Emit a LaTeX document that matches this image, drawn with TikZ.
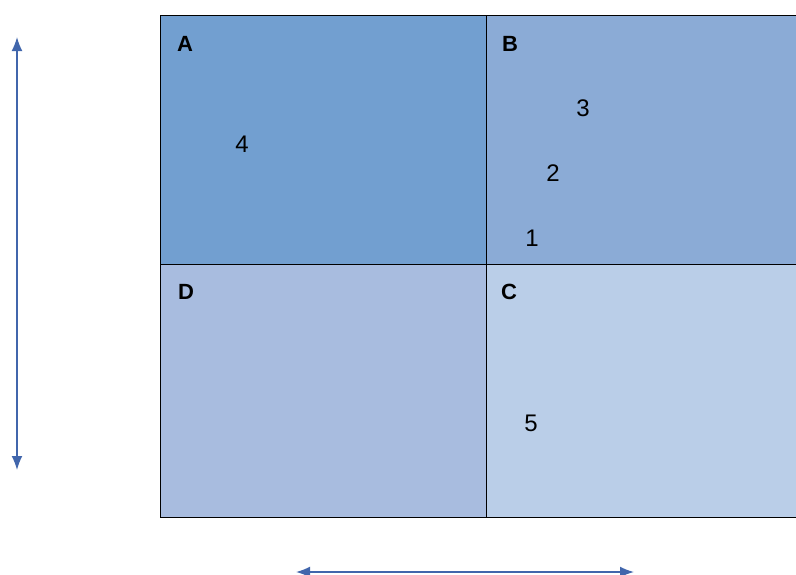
\documentclass[tikz,border=0pt]{standalone}
\usepackage{fontspec}
\setmainfont{Liberation Sans}
\usepackage{xcolor}
\usepackage{tikz}
\usetikzlibrary{positioning,arrows.meta}
\definecolor{qblueA}{HTML}{729FD0}
\definecolor{qblueB}{HTML}{8BABD6}
\definecolor{qblueC}{HTML}{BACEE8}
\definecolor{qblueD}{HTML}{A8BCDF}
\definecolor{axisblue}{HTML}{4166AC}

\begin{document}
\begin{tikzpicture}[x=1pt, y=-1pt,
  quad/.style={draw, line width=1pt, anchor=north west, minimum width=326pt, minimum height=249pt, inner sep=0pt, outer sep=0pt},
  corner/.style={font=\fontsize{22}{26}\selectfont\bfseries, inner sep=0pt},
  num/.style={font=\fontsize{24}{28}\selectfont, inner sep=0pt},
  axis/.style={{Latex[length=14pt,width=11pt]}-{Latex[length=14pt,width=11pt]}, line width=1.6pt, axisblue}]
\clip (0,0) rectangle (796,574);
\useasboundingbox (0,0) rectangle (796,574);
% quadrants
\node[quad, fill=qblueA] (qa) at (160,15) {};
\node[quad, fill=qblueB, minimum width=360pt] (qb) at (486,15) {};
\node[quad, fill=qblueD, minimum height=253pt] (qd) at (160,264) {};
\node[quad, fill=qblueC, minimum width=360pt, minimum height=253pt] (qc) at (486,264) {};
% corner labels
\node[corner] (la) at (185,44) {A};
\node[corner] (lb) at (510,44) {B};
\node[corner] (ld) at (186,292) {D};
\node[corner] (lc) at (509,292) {C};
% numbered points
\node[num] (p4) at (242,144) {4};
\node[num] (p3) at (583,108) {3};
\node[num] (p2) at (553,173) {2};
\node[num] (p1) at (532,238) {1};
\node[num] (p5) at (531,423) {5};
% axes
\coordinate (vtop) at (17,37);
\coordinate (vbot) at (17,470);
\coordinate (hleft) at (296,572);
\coordinate (hright) at (634,572);
\draw[axis] (vtop) -- (vbot);
\draw[axis] (hleft) -- (hright);
\end{tikzpicture}
\end{document}
